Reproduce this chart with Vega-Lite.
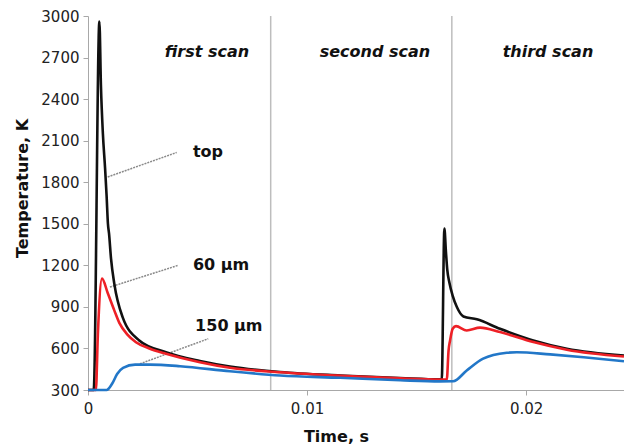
{
  "$schema": "https://vega.github.io/schema/vega-lite/v6.json",
  "width": 536,
  "height": 374,
  "autosize": {"type": "none"},
  "padding": {"left": 88, "top": 16, "right": 0, "bottom": 58},
  "background": "white",
  "config": {
    "view": {"stroke": null},
    "font": "DejaVu Sans",
    "axis": {
      "grid": false,
      "domainColor": "#a8a8a8",
      "tickColor": "#a8a8a8",
      "tickSize": 5,
      "labelFont": "DejaVu Sans",
      "labelFontSize": 15,
      "labelColor": "#222222",
      "titleFont": "DejaVu Sans",
      "titleFontSize": 16,
      "titleFontWeight": "bold",
      "titleColor": "#111111"
    }
  },
  "datasets": {
    "curves": [
      {"s": "top", "t": 0, "T": 300},
      {"s": "top", "t": 0.00026, "T": 300},
      {"s": "top", "t": 0.00052, "T": 2960},
      {"s": "top", "t": 0.00059, "T": 2500},
      {"s": "top", "t": 0.00068, "T": 2150},
      {"s": "top", "t": 0.00078, "T": 1900},
      {"s": "top", "t": 0.00085, "T": 1700},
      {"s": "top", "t": 0.00091, "T": 1500},
      {"s": "top", "t": 0.00096, "T": 1430},
      {"s": "top", "t": 0.00105, "T": 1250},
      {"s": "top", "t": 0.0012, "T": 1068},
      {"s": "top", "t": 0.00158, "T": 826},
      {"s": "top", "t": 0.00234, "T": 658},
      {"s": "top", "t": 0.00356, "T": 573},
      {"s": "top", "t": 0.00511, "T": 510},
      {"s": "top", "t": 0.00648, "T": 470},
      {"s": "top", "t": 0.00877, "T": 430},
      {"s": "top", "t": 0.01151, "T": 405},
      {"s": "top", "t": 0.01425, "T": 387},
      {"s": "top", "t": 0.01607, "T": 377},
      {"s": "top", "t": 0.01615, "T": 377},
      {"s": "top", "t": 0.01627, "T": 1465},
      {"s": "top", "t": 0.01634, "T": 1300},
      {"s": "top", "t": 0.0164, "T": 1170},
      {"s": "top", "t": 0.0165, "T": 1075},
      {"s": "top", "t": 0.01665, "T": 980},
      {"s": "top", "t": 0.01684, "T": 899},
      {"s": "top", "t": 0.01714, "T": 831},
      {"s": "top", "t": 0.01775, "T": 810},
      {"s": "top", "t": 0.01881, "T": 742},
      {"s": "top", "t": 0.02033, "T": 658},
      {"s": "top", "t": 0.02186, "T": 598},
      {"s": "top", "t": 0.02447, "T": 549},
      {"s": "60", "t": 0, "T": 300},
      {"s": "60", "t": 0.00036, "T": 300},
      {"s": "60", "t": 0.00045, "T": 700},
      {"s": "60", "t": 0.00064, "T": 1104},
      {"s": "60", "t": 0.0009, "T": 1000},
      {"s": "60", "t": 0.0012, "T": 875},
      {"s": "60", "t": 0.00143, "T": 785},
      {"s": "60", "t": 0.0018, "T": 700},
      {"s": "60", "t": 0.00219, "T": 645},
      {"s": "60", "t": 0.0028, "T": 600},
      {"s": "60", "t": 0.00356, "T": 562},
      {"s": "60", "t": 0.00511, "T": 500},
      {"s": "60", "t": 0.00648, "T": 460},
      {"s": "60", "t": 0.00877, "T": 428},
      {"s": "60", "t": 0.01151, "T": 403},
      {"s": "60", "t": 0.01425, "T": 385},
      {"s": "60", "t": 0.01607, "T": 376},
      {"s": "60", "t": 0.01638, "T": 376},
      {"s": "60", "t": 0.01646, "T": 585},
      {"s": "60", "t": 0.01653, "T": 658},
      {"s": "60", "t": 0.01665, "T": 742},
      {"s": "60", "t": 0.0168, "T": 761},
      {"s": "60", "t": 0.01729, "T": 730},
      {"s": "60", "t": 0.0179, "T": 750},
      {"s": "60", "t": 0.01881, "T": 718},
      {"s": "60", "t": 0.02033, "T": 646},
      {"s": "60", "t": 0.02186, "T": 591},
      {"s": "60", "t": 0.02447, "T": 542},
      {"s": "150", "t": 0, "T": 300},
      {"s": "150", "t": 0.00085, "T": 300},
      {"s": "150", "t": 0.0011, "T": 345},
      {"s": "150", "t": 0.00133, "T": 415},
      {"s": "150", "t": 0.0016, "T": 460},
      {"s": "150", "t": 0.00215, "T": 483},
      {"s": "150", "t": 0.00283, "T": 483},
      {"s": "150", "t": 0.0042, "T": 472},
      {"s": "150", "t": 0.00648, "T": 435},
      {"s": "150", "t": 0.00877, "T": 405},
      {"s": "150", "t": 0.01151, "T": 388},
      {"s": "150", "t": 0.01425, "T": 370},
      {"s": "150", "t": 0.01607, "T": 362},
      {"s": "150", "t": 0.01667, "T": 363},
      {"s": "150", "t": 0.01729, "T": 441},
      {"s": "150", "t": 0.01804, "T": 526},
      {"s": "150", "t": 0.01912, "T": 569},
      {"s": "150", "t": 0.01958, "T": 573},
      {"s": "150", "t": 0.0211, "T": 557},
      {"s": "150", "t": 0.02263, "T": 537},
      {"s": "150", "t": 0.02447, "T": 508}
    ]
  },
  "encoding": {
    "x": {
      "field": "t", "type": "quantitative",
      "scale": {"domain": [0, 0.02447], "nice": false, "zero": false},
      "axis": {"title": "Time, s", "values": [0, 0.01, 0.02], "format": "~g", "labelPadding": 6, "titleX": 248, "titleY": 38, "titleBaseline": "top", "titleAnchor": "middle", "labelFlush": false}
    },
    "y": {
      "field": "T", "type": "quantitative",
      "scale": {"domain": [300, 3000], "nice": false, "zero": false},
      "axis": {"title": "Temperature, K", "values": [300, 600, 900, 1200, 1500, 1800, 2100, 2400, 2700, 3000], "format": "d", "labelPadding": 4, "titleX": -66, "titleY": 172, "titleBaseline": "middle", "titleAnchor": "middle", "labelFlush": false}
    }
  },
  "layer": [
    {
      "data": {"values": [{"t": 0.00834}, {"t": 0.01661}]},
      "mark": {"type": "rule", "color": "#bdbdbd", "strokeWidth": 1.5},
      "encoding": {"y": {"value": 0}, "y2": {"value": 374}}
    },
    {
      "data": {"values": [
        {"t": 0.0009, "T": 1838, "t2": 0.00405, "T2": 2015},
        {"t": 0.001, "T": 1043, "t2": 0.00412, "T2": 1200},
        {"t": 0.00237, "T": 489, "t2": 0.00549, "T2": 670}
      ]},
      "mark": {"type": "rule", "color": "#8a8a8a", "strokeWidth": 1.5, "strokeDash": [2, 1]},
      "encoding": {"x2": {"field": "t2"}, "y2": {"field": "T2"}}
    },
    {
      "data": {"name": "curves"},
      "mark": {"type": "line", "strokeWidth": 2.6, "interpolate": "monotone"},
      "encoding": {
        "color": {
          "field": "s", "type": "nominal",
          "scale": {"domain": ["top", "60", "150"], "range": ["#111111", "#ee2026", "#2277c8"]},
          "legend": null
        },
        "order": {"field": "t", "type": "quantitative"}
      }
    },
    {
      "data": {"values": [
        {"t": 0.00543, "T": 2740, "label": "first scan"},
        {"t": 0.0131, "T": 2740, "label": "second scan"},
        {"t": 0.021, "T": 2740, "label": "third scan"}
      ]},
      "mark": {"type": "text", "font": "DejaVu Sans", "fontSize": 16, "fontWeight": "bold", "fontStyle": "italic", "color": "#111111", "align": "center", "baseline": "middle"},
      "encoding": {"text": {"field": "label"}}
    },
    {
      "data": {"values": [
        {"t": 0.00479, "T": 2017, "label": "top"},
        {"t": 0.00479, "T": 1200, "label": "60 µm"},
        {"t": 0.00489, "T": 759, "label": "150 µm"}
      ]},
      "mark": {"type": "text", "font": "DejaVu Sans", "fontSize": 16, "fontWeight": "bold", "color": "#111111", "align": "left", "baseline": "middle"},
      "encoding": {"text": {"field": "label"}}
    }
  ]
}
